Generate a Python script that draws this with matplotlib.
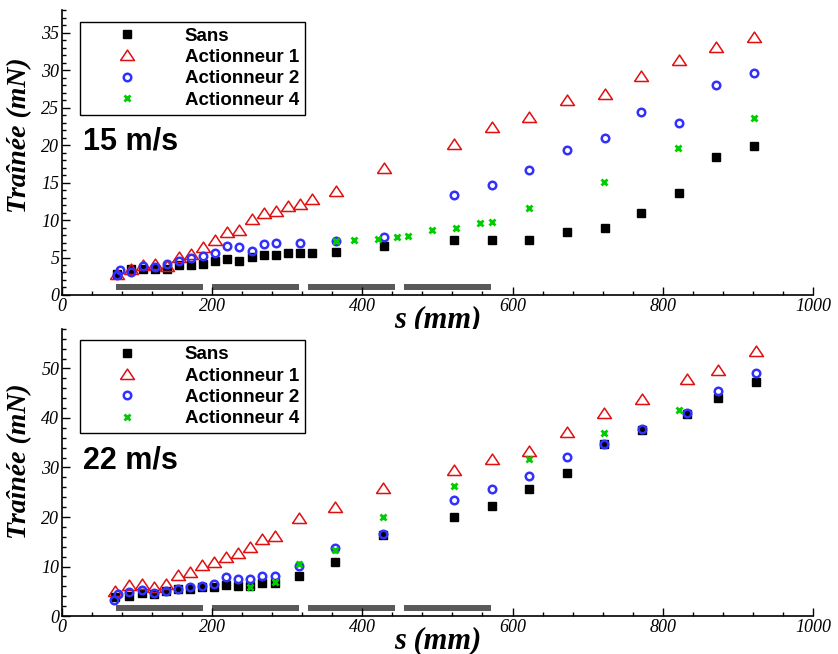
import matplotlib
matplotlib.use("Agg")
import matplotlib.pyplot as plt
from matplotlib.ticker import MultipleLocator

# ---------------- data : 15 m/s ----------------
s15_sans = [73, 92, 108, 124, 140, 156, 172, 188, 204, 220, 236, 253, 269, 285, 301, 317, 333, 365, 429,
            522, 573, 622, 673, 723, 771, 822, 871, 921]
t15_sans = [2.8, 3.5, 3.4, 3.4, 3.5, 4.0, 4.0, 4.2, 4.6, 4.8, 4.6, 5.1, 5.4, 5.4, 5.65, 5.65, 5.6, 5.8, 6.6,
            7.3, 7.4, 7.4, 8.4, 8.9, 10.9, 13.6, 18.4, 19.9]
s15_a1 = [73, 92, 108, 124, 140, 156, 172, 188, 204, 220, 236, 253, 269, 285, 301, 317, 333, 365, 429,
          522, 573, 622, 673, 723, 771, 822, 871, 921]
t15_a1 = [2.8, 3.5, 4.0, 4.2, 3.9, 5.1, 5.5, 6.4, 7.3, 8.4, 8.7, 10.1, 10.9, 11.2, 11.9, 12.2, 12.8, 13.9, 16.9,
          20.2, 22.5, 23.8, 26.1, 26.9, 29.3, 31.4, 33.1, 34.5]
s15_a2 = [73, 77, 92, 108, 124, 140, 156, 172, 188, 204, 220, 236, 253, 269, 285, 317, 365, 429,
          522, 573, 622, 673, 723, 771, 822, 871, 921]
t15_a2 = [2.7, 3.3, 3.0, 3.85, 3.75, 4.1, 4.6, 5.0, 5.2, 5.65, 6.5, 6.4, 5.9, 6.85, 7.0, 7.0, 7.2, 7.8,
          13.35, 14.7, 16.7, 19.3, 21.0, 24.5, 23.0, 28.0, 29.6]
s15_a4 = [365, 389, 421, 446, 461, 493, 525, 557, 573, 622, 722, 821, 921]
t15_a4 = [7.25, 7.35, 7.5, 7.8, 7.85, 8.7, 9.0, 9.6, 9.8, 11.6, 15.1, 19.6, 23.7]

# ---------------- data : 22 m/s ----------------
s22_sans = [71, 89, 106, 122, 138, 154, 170, 187, 202, 218, 235, 251, 267, 283, 316, 364, 428,
            522, 573, 622, 672, 722, 773, 832, 873, 924]
t22_sans = [3.8, 4.0, 4.7, 4.45, 5.1, 5.4, 5.4, 5.8, 5.8, 6.3, 6.1, 6.1, 6.6, 6.6, 8.1, 11.0, 16.4,
            19.9, 22.3, 25.6, 28.8, 34.8, 37.5, 40.9, 44.1, 47.3]
s22_a1 = [71, 89, 106, 122, 138, 154, 170, 187, 202, 218, 235, 251, 267, 283, 316, 364, 428,
          522, 573, 622, 672, 722, 773, 832, 873, 924]
t22_a1 = [5.0, 6.3, 6.5, 5.9, 6.5, 8.3, 8.8, 10.3, 10.9, 12.0, 12.7, 13.9, 15.5, 16.2, 19.7, 22.1, 25.8,
          29.5, 31.7, 33.35, 37.25, 41.1, 43.9, 47.9, 49.6, 53.6]
s22_a2 = [69, 74, 89, 106, 122, 138, 154, 170, 187, 202, 218, 235, 251, 267, 283, 316, 364, 428,
          522, 573, 622, 672, 722, 773, 832, 873, 924]
t22_a2 = [3.3, 4.5, 4.9, 5.3, 4.7, 5.1, 5.4, 5.9, 6.1, 6.5, 7.8, 7.4, 7.4, 8.0, 8.15, 10.2, 13.7, 16.6,
          23.4, 25.6, 28.3, 32.15, 34.8, 37.7, 41.1, 45.4, 49.1]
s22_a4 = [251, 283, 316, 364, 428, 522, 622, 722, 822]
t22_a4 = [5.8, 6.8, 10.5, 13.3, 19.9, 26.2, 31.8, 36.9, 41.7]

# actuator strips (grey bars)
bar_start = [72, 200, 328, 456]
bar_end = [188, 315, 444, 571]
bar_level_15 = 1.1
bar_level_22 = 1.6

labels = ["Sans", "Actionneur 1", "Actionneur 2", "Actionneur 4"]
speeds = ["15 m/s", "22 m/s"]

RED = "#e01010"
BLUE = "#3030ff"
GREEN = "#00cc00"
tri = [(-1, -0.72), (1, -0.72), (0, 0.78), (-1, -0.72)]

fig = plt.figure(figsize=(8.38, 6.54), dpi=100)
ax1 = fig.add_axes([0.074, 0.549, 0.896, 0.435])
ax2 = fig.add_axes([0.074, 0.0581, 0.896, 0.439])

panels = [
    (ax1, s15_sans, t15_sans, s15_a1, t15_a1, s15_a2, t15_a2, s15_a4, t15_a4, bar_level_15, 38, 5, 1, speeds[0], 0.56),
    (ax2, s22_sans, t22_sans, s22_a1, t22_a1, s22_a2, t22_a2, s22_a4, t22_a4, bar_level_22, 58, 10, 2, speeds[1], 0.54),
]

for (ax, xs, ys, x1, y1, x2, y2, x4, y4, blev, ytop, ymaj, ymin, speed, ylab_y) in panels:
    ax.hlines([blev] * len(bar_start), bar_start, bar_end, colors="#595959", lw=4.3, zorder=1)
    ax.plot(xs, ys, ls="none", marker="s", ms=6, color="black", label=labels[0], zorder=3)
    ax.plot(x1, y1, ls="none", marker=tri, ms=10, mfc="none", mec=RED, mew=1.1, label=labels[1], zorder=3)
    ax.plot(x2, y2, ls="none", marker="o", ms=5.4, mfc="none", mec=BLUE, mew=1.8, label=labels[2], zorder=3)
    ax.plot(x4, y4, ls="none", marker="x", ms=5.0, mec=GREEN, mew=2.0, label=labels[3], zorder=3)

    ax.set_xlim(0, 1000)
    ax.set_ylim(0, ytop)
    ax.xaxis.set_major_locator(MultipleLocator(200))
    ax.xaxis.set_minor_locator(MultipleLocator(40))
    ax.yaxis.set_major_locator(MultipleLocator(ymaj))
    ax.yaxis.set_minor_locator(MultipleLocator(ymin))
    ax.tick_params(which="both", direction="in", top=False, right=False, width=1)
    ax.tick_params(which="major", length=6, pad=2)
    ax.tick_params(which="minor", length=3)
    for side in ("top", "right"):
        ax.spines[side].set_visible(False)
    for side in ("left", "bottom"):
        ax.spines[side].set_linewidth(1.2)
    for lab in ax.get_xticklabels() + ax.get_yticklabels():
        lab.set_fontfamily("Liberation Serif")
        lab.set_fontstyle("italic")
        lab.set_fontsize(13)
    ax.set_xlabel("s (mm)", fontfamily="Liberation Serif", fontstyle="italic", fontweight="bold",
                  fontsize=22, labelpad=-7)
    ax.set_ylabel("Traînée (mN)", fontfamily="Liberation Serif", fontstyle="italic", fontweight="bold",
                  fontsize=20)
    ax.yaxis.set_label_coords(-0.040, ylab_y)
    leg = ax.legend(loc="upper left", bbox_to_anchor=(0.024, 0.96), borderaxespad=0,
                    prop={"family": "Liberation Sans", "weight": "bold", "size": 13.5},
                    frameon=True, fancybox=False, framealpha=1, edgecolor="black",
                    handlelength=4.4, handletextpad=0.88, labelspacing=0.23, borderpad=0.3)
    leg.get_frame().set_linewidth(1.0)
    ax.text(0.028, 0.54, speed, transform=ax.transAxes, fontfamily="Liberation Sans",
            fontweight="bold", fontsize=22, va="center", ha="left")

fig.savefig("out.png", dpi=100)
